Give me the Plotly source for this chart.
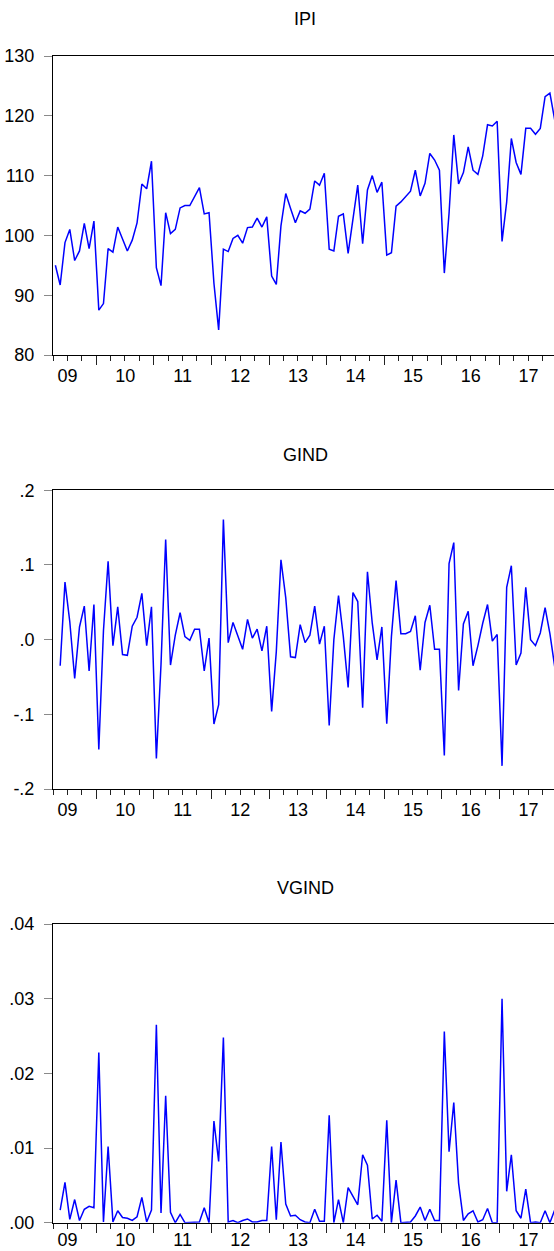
import pandas as pd
import plotly.graph_objects as go

# Monthly observations, first observation 2009M04
start_month = "2009-04-01"
n_obs = 105

ipi = [95.0, 91.7, 98.8, 101.0, 95.8, 97.4, 102.0, 97.8, 102.4, 87.5,
       88.6, 97.8, 97.2, 101.4, 99.4, 97.4, 99.2, 102.1, 108.6, 107.8,
       112.4, 94.6, 91.6, 103.8, 100.3, 101.0, 104.6, 105.0, 105.0, 106.5,
       108.0, 103.6, 103.8, 92.0, 84.2, 97.7, 97.3, 99.5, 100.0, 98.7,
       101.3, 101.4, 102.9, 101.4, 103.1, 93.2, 91.8, 101.6, 107.0, 104.5,
       102.1, 104.1, 103.7, 104.4, 109.1, 108.4, 110.4, 97.7, 97.4, 103.2,
       103.6, 97.0, 102.6, 108.4, 98.6, 107.6, 110.0, 107.2, 108.9, 96.7,
       97.1, 104.9, 105.6, 106.5, 107.4, 110.9, 106.6, 108.7, 113.7, 112.6,
       110.9, 93.7, 103.7, 116.8, 108.6, 110.5, 114.8, 110.9, 110.2, 113.3,
       118.5, 118.3, 119.1, 99.0, 105.6, 116.2, 112.2, 110.2, 117.9, 117.9,
       116.9, 117.9, 123.2, 123.8, 119.3]

gind = [None,
        -0.035, 0.077, 0.024, -0.052, 0.017, 0.045, -0.042, 0.047, -0.147, 0.012,
        0.105, -0.008, 0.044, -0.020, -0.021, 0.018, 0.030, 0.062, -0.008, 0.044,
        -0.159, -0.033, 0.134, -0.034, 0.006, 0.036, 0.004, -0.001, 0.014, 0.014,
        -0.042, 0.002, -0.113, -0.087, 0.161, -0.004, 0.023, 0.005, -0.013, 0.027,
        0.002, 0.014, -0.015, 0.018, -0.096, -0.016, 0.107, 0.056, -0.023, -0.024,
        0.020, -0.004, 0.006, 0.045, -0.006, 0.018, -0.115, 0.000, 0.059, 0.004,
        -0.064, 0.063, 0.051, -0.091, 0.091, 0.022, -0.027, 0.017, -0.1125, 0.004,
        0.079, 0.008, 0.008, 0.011, 0.032, -0.041, 0.023, 0.046, -0.013, -0.013,
        -0.155, 0.102, 0.130, -0.068, 0.021, 0.038, -0.035, -0.008, 0.022, 0.047,
        -0.002, 0.007, -0.169, 0.070, 0.099, -0.034, -0.018, 0.070, 0.000, -0.008,
        0.009, 0.043, 0.008, -0.036]

vgind = [None,
         0.0017, 0.0054, 0.00045, 0.0031, 0.0003, 0.0018, 0.0022, 0.0020, 0.0228, 0.0001,
         0.0102, 0.0001, 0.0016, 0.0007, 0.0006, 0.0003, 0.0008, 0.0034, 0.0001, 0.0017,
         0.0265, 0.0013, 0.0170, 0.0014, 0.0000, 0.0011, 0.0000, 0.0000, 0.0001, 0.0001,
         0.0020, 0.0000, 0.0136, 0.0082, 0.0248, 0.0001, 0.0003, 0.0000, 0.0003, 0.0005,
         0.0001, 0.0001, 0.0003, 0.0003, 0.0102, 0.0004, 0.0108, 0.0025, 0.0009, 0.0010,
         0.0004, 0.0001, 0.0000, 0.0018, 0.0002, 0.0002, 0.0144, 0.0000, 0.0031, 0.0000,
         0.0047, 0.0036, 0.0024, 0.0091, 0.0077, 0.0005, 0.0010, 0.0002, 0.0137, 0.0000,
         0.0057, 0.0000, 0.0000, 0.0001, 0.0009, 0.0021, 0.0003, 0.0018, 0.0003, 0.0003,
         0.0256, 0.0095, 0.0161, 0.0053, 0.0003, 0.0012, 0.0016, 0.0001, 0.0004, 0.0019,
         0.0000, 0.0000, 0.0300, 0.0042, 0.0091, 0.0016, 0.0006, 0.0045, 0.0000, 0.0001,
         0.0000, 0.0016, 0.0000, 0.0017]

titles = ["IPI", "GIND", "VGIND"]
ipi_ticks = [80, 90, 100, 110, 120, 130]
gind_ticks = [-0.2, -0.1, 0.0, 0.1, 0.2]
gind_labels = ["-.2", "-.1", ".0", ".1", ".2"]
vgind_ticks = [0.0, 0.01, 0.02, 0.03, 0.04]
vgind_labels = [".00", ".01", ".02", ".03", ".04"]

# month mid-points (EViews plots each observation at the centre of its period)
starts = pd.date_range(start_month, periods=n_obs + 1, freq="MS")
mids = [s + (e - s) / 2 for s, e in zip(starts[:-1], starts[1:])]

W, H = 554, 1251
L = 53
FONT = "Liberation Sans"
FS = 18


def dom(top, bottom):
    return [1 - bottom / H, 1 - top / H]


panels = [
    (ipi, dom(56, 355), [80, 130], ipi_ticks, [str(v) for v in ipi_ticks], 19, -5),
    (gind, dom(490.3, 789), [-0.2, 0.2], gind_ticks, gind_labels, 455, -5),
    (vgind, dom(924, 1222.7), [0, 0.04], vgind_ticks, vgind_labels, 888, -8),
]

fig = go.Figure()
layout = dict(
    width=W, height=H,
    margin=dict(l=L, r=0, t=0, b=0, autoexpand=False),
    paper_bgcolor="white", plot_bgcolor="white",
    showlegend=False,
    font=dict(family=FONT, size=FS, color="black"),
    annotations=[],
)

xrange_ = ["2009-04-01", "2017-12-12"]

for k, (vals, ydom, yr, tv, tt, ty, xso) in enumerate(panels):
    sfx = "" if k == 0 else str(k + 1)
    fig.add_trace(go.Scatter(
        x=mids, y=vals, mode="lines",
        line=dict(color="#0000FF", width=1.5),
        xaxis="x" + sfx, yaxis="y" + sfx,
        connectgaps=False, hoverinfo="skip",
    ))
    layout["xaxis" + sfx] = dict(
        type="date", domain=[0, 1], anchor="y" + sfx, range=xrange_,
        tickmode="linear", tick0="2009-01-01", dtick="M12",
        ticklabelmode="period", tickformat="%y",
        ticks="outside", ticklen=9, tickwidth=1, tickcolor="#222222",
        showline=True, linecolor="black", linewidth=1, mirror=True,
        showgrid=False, zeroline=False, automargin=False,
        minor=dict(dtick="M3", tick0="2009-01-01", ticks="outside",
                   ticklen=5, tickwidth=1, tickcolor="#222222", showgrid=False),
        tickfont=dict(family=FONT, size=FS, color="black"),
        ticklabelstandoff=xso,
    )
    layout["yaxis" + sfx] = dict(
        domain=ydom, anchor="x" + sfx, range=yr,
        tickmode="array", tickvals=tv, ticktext=tt,
        ticks="outside", ticklen=8, tickwidth=1, tickcolor="#8a8a8a",
        showline=True, linecolor="black", linewidth=1, mirror=False,
        showgrid=False, zeroline=False, automargin=False,
        tickfont=dict(family=FONT, size=FS, color="black"),
        ticklabelstandoff=6,
    )
    layout["annotations"].append(dict(
        text=titles[k], xref="paper", yref="paper",
        x=(305 - L) / (W - L), y=1 - ty / H,
        xanchor="center", yanchor="middle", showarrow=False,
        font=dict(family=FONT, size=FS, color="black"),
    ))

fig.update_layout(**layout)
fig.write_html("out.html")
